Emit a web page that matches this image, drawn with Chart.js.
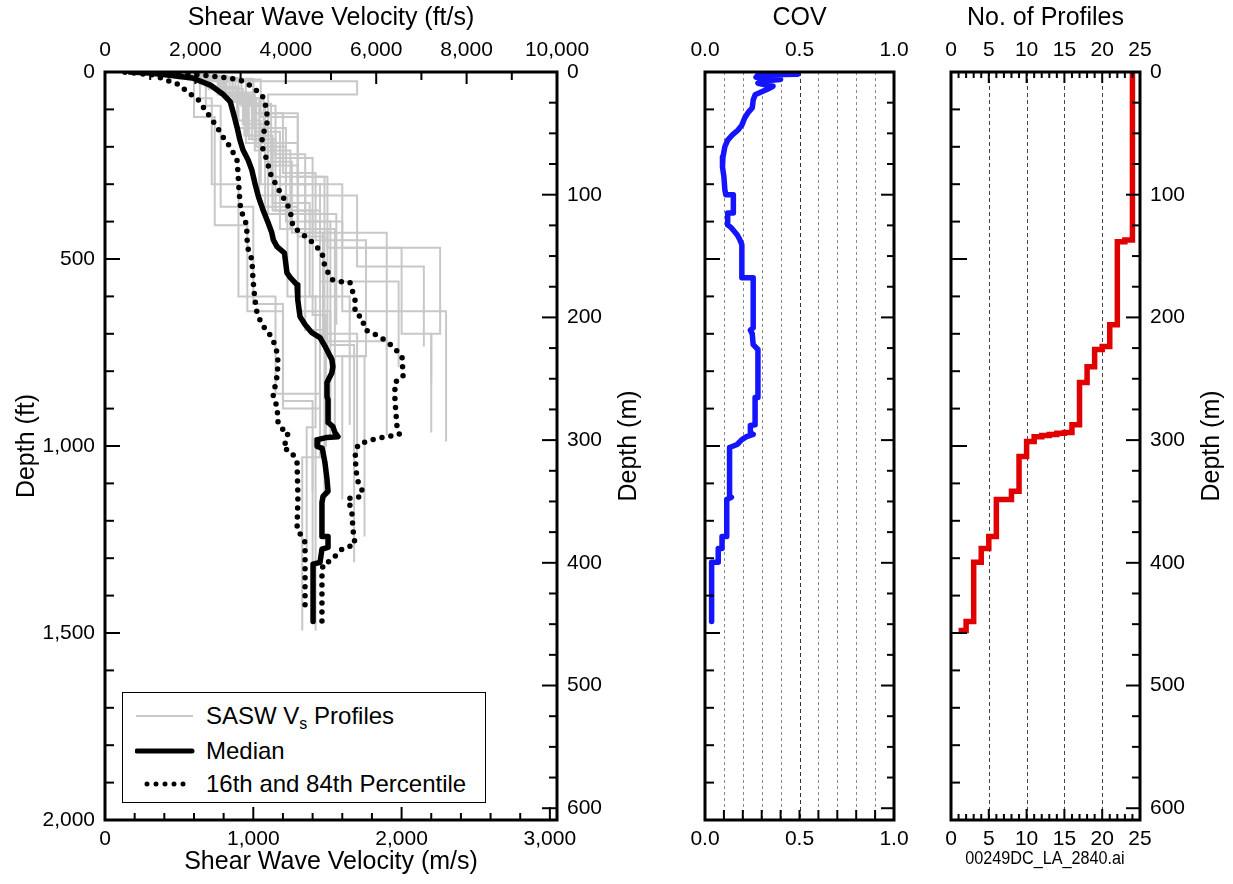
<!DOCTYPE html>
<html>
<head>
<meta charset="utf-8">
<title>Shear wave velocity profiles</title>
<script src="https://cdn.jsdelivr.net/npm/chart.js@4.4.1/dist/chart.umd.min.js"></script>
<style>
  html, body { margin: 0; padding: 0; background: #fff; }
  body { width: 1233px; height: 884px; position: relative; overflow: hidden;
         font-family: "Liberation Sans", Arial, sans-serif; color: #000; }
  canvas { position: absolute; top: 0; }
  #legend { position: absolute; left: 122px; top: 692px; width: 362px; height: 109px;
            border: 1.5px solid #000; background: #fff; z-index: 2; }
  #legend svg { position: absolute; left: 12px; }
  #legend .txt { position: absolute; left: 83px; font-size: 24px; line-height: 28px; white-space: nowrap; }
  #legend sub { font-size: 16px; vertical-align: -5px; line-height: 0; }
  #foot { position: absolute; left: 1045px; top: 848px; font-size: 18px; line-height: 20px;
          transform: translateX(-50%) scaleX(0.9); white-space: nowrap; }
</style>
</head>
<body>
<canvas id="c1" width="660" height="884" style="left:0px"></canvas>
<canvas id="c2" width="270" height="884" style="left:660px"></canvas>
<canvas id="c3" width="303" height="884" style="left:930px"></canvas>

<div id="legend">
  <svg width="60" height="12" style="top:17px"><line x1="1" y1="6" x2="58" y2="6" stroke="#c8c8c8" stroke-width="2"/></svg>
  <div class="txt" style="top:9px">SASW V<sub>s</sub> Profiles</div>
  <svg width="60" height="12" style="top:52px"><line x1="2" y1="6" x2="57" y2="6" stroke="#000" stroke-width="5" stroke-linecap="round"/></svg>
  <div class="txt" style="top:44px">Median</div>
  <svg width="60" height="12" style="top:85px"><line x1="12" y1="6" x2="57" y2="6" stroke="#000" stroke-width="5" stroke-linecap="round" stroke-dasharray="0 9"/></svg>
  <div class="txt" style="top:77px">16th and 84th Percentile</div>
</div>
<div id="foot">00249DC_LA_2840.ai</div>

<script>
// ---- Median and percentile curves: depth (ft) and shear wave velocity (m/s) ----
const medianDepthFt = [0, 3, 8, 16, 35, 61, 80, 109, 147, 182, 208, 235, 262, 296, 334, 368, 403, 430, 449, 467,
  484, 537, 550, 569, 609, 654, 676, 697, 710, 734, 750, 769, 788, 804, 830, 868, 876, 937, 948, 964,
  975, 977, 983, 1001, 1006, 1044, 1089, 1121, 1135, 1151, 1242, 1242, 1271, 1276, 1311, 1316, 1469];
const medianVs = [170, 300, 420, 590, 710, 800, 845, 865, 890, 910, 930, 965, 990, 1010, 1035, 1065, 1100, 1125, 1135, 1160,
  1210, 1227, 1250, 1295, 1300, 1315, 1350, 1395, 1450, 1485, 1505, 1530, 1537, 1530, 1497, 1497, 1504, 1504, 1537, 1551,
  1571, 1497, 1436, 1430, 1465, 1483, 1497, 1504, 1470, 1463, 1463, 1504, 1504, 1463, 1450, 1403, 1403];

const p16DepthFt = [0, 8, 35, 56, 69, 93, 120, 147, 174, 200, 235, 270, 323, 368, 409, 467, 502, 555, 609, 644,
  676, 695, 716, 750, 777, 814, 868, 894, 937, 956, 961, 983, 1004, 1017, 1044, 1135, 1223, 1242, 1258, 1445];
const p16Vs = [135, 324, 506, 560, 620, 661, 708, 755, 796, 843, 890, 897, 905, 915, 955, 960, 991, 998, 1011, 1025,
  1059, 1100, 1133, 1160, 1167, 1160, 1133, 1160, 1167, 1200, 1234, 1227, 1200, 1260, 1295, 1301, 1295, 1328, 1349, 1349];

const p84DepthFt = [0, 8, 13, 21, 40, 67, 101, 147, 163, 182, 208, 235, 270, 307, 334, 368, 414, 443, 457, 483,
  521, 555, 561, 563, 609, 644, 657, 689, 708, 734, 761, 814, 830, 876, 948, 969, 977, 983, 996, 1028,
  1089, 1124, 1138, 1140, 1178, 1223, 1263, 1276, 1295, 1308, 1316, 1348, 1469];
const p84Vs = [135, 640, 775, 910, 998, 1065, 1092, 1092, 1065, 1059, 1065, 1092, 1113, 1160, 1200, 1247, 1268, 1362, 1403, 1463,
  1483, 1531, 1598, 1652, 1686, 1686, 1733, 1753, 1854, 1942, 2003, 2010, 1955, 1955, 1969, 1985, 1875, 1800, 1706, 1686,
  1699, 1740, 1706, 1639, 1665, 1672, 1686, 1598, 1551, 1517, 1470, 1463, 1463];

// ---- Individual SASW profiles: layer bottoms (ft) and layer velocities (m/s) ----
const profileBottomsFt = [
  [12, 60, 160, 300, 449],
  [10, 45, 140, 280, 454],
  [15, 70, 190, 380, 676],
  [10, 55, 150, 330, 520, 734],
  [20, 90, 230, 430, 742],
  [8, 40, 130, 300, 560, 788],
  [18, 110, 300, 470, 700, 830],
  [12, 60, 170, 350, 600, 943],
  [20, 120, 280, 470, 700, 964],
  [10, 70, 300, 600, 860, 966],
  [14, 75, 200, 420, 969],
  [25, 60, 250, 440, 720, 972],
  [9, 120, 410, 640, 900, 975],
  [16, 85, 220, 400, 640, 988],
  [12, 65, 180, 370, 700, 1028],
  [10, 90, 360, 620, 880, 1121],
  [22, 110, 270, 450, 760, 1143],
  [11, 60, 190, 380, 690, 1143],
  [15, 80, 210, 420, 760, 1242],
  [8, 45, 150, 330, 600, 950, 1274],
  [13, 70, 200, 400, 730, 1311],
  [10, 55, 170, 360, 640, 980, 1469],
  [18, 90, 240, 430, 720, 1030, 1493],
  [12, 60, 180, 370, 650, 1000, 1493]
];
const profileVs = [
  [420, 760, 1010, 1180, 1350],
  [380, 700, 930, 1120, 1480],
  [520, 880, 1070, 1300, 1560],
  [460, 820, 1000, 1220, 1700, 2150],
  [600, 950, 1150, 1400, 1900],
  [350, 680, 900, 1050, 1450, 1980],
  [500, 1000, 1300, 1600, 2260, 2200],
  [440, 790, 960, 1130, 1380, 1650],
  [560, 1050, 1300, 1500, 2000, 2200],
  [400, 640, 720, 900, 1150, 1450],
  [480, 860, 1020, 1180, 1550],
  [620, 1700, 1100, 1300, 1480, 1900],
  [370, 600, 740, 960, 1200, 1450],
  [530, 900, 1120, 1350, 1600, 2300],
  [450, 810, 990, 1150, 1450, 1700],
  [390, 680, 780, 1000, 1200, 1400],
  [580, 1000, 1200, 1420, 1760, 1600],
  [420, 780, 950, 1100, 1350, 1480],
  [500, 840, 1010, 1250, 1500, 1750],
  [360, 700, 890, 1040, 1230, 1420, 1360],
  [470, 860, 1040, 1220, 1520, 1680],
  [410, 770, 940, 1080, 1300, 1520, 1400],
  [540, 920, 1080, 1260, 1470, 1450, 1330],
  [430, 800, 970, 1130, 1400, 1490, 1420]
];

// ---- Coefficient of variation with depth ----
const covDepthFt = [0, 2, 6, 8, 14, 20, 24, 30, 38, 46, 53, 61, 75, 96, 107, 123, 142, 155, 168, 182,
  200, 227, 235, 254, 280, 315, 328, 328, 377, 377, 409, 417, 435, 449, 462, 550, 550, 684, 690, 700,
  729, 742, 870, 870, 943, 945, 964, 969, 975, 983, 996, 1004, 1135, 1137, 1143, 1242, 1242, 1274, 1274, 1311,
  1311, 1469];
const covValues = [0.30, 0.49, 0.49, 0.28, 0.27, 0.40, 0.30, 0.28, 0.36, 0.33, 0.30, 0.265, 0.255, 0.25, 0.23, 0.21, 0.195, 0.175, 0.145, 0.12,
  0.105, 0.095, 0.09, 0.095, 0.10, 0.105, 0.11, 0.15, 0.15, 0.12, 0.12, 0.14, 0.17, 0.185, 0.195, 0.195, 0.255, 0.255, 0.24, 0.25,
  0.255, 0.28, 0.28, 0.265, 0.265, 0.24, 0.24, 0.255, 0.22, 0.195, 0.17, 0.13, 0.13, 0.14, 0.115, 0.115, 0.09, 0.09, 0.07, 0.07,
  0.035, 0.035];

// ---- Number of profiles reaching each depth (interval boundaries in ft) ----
const countDepthFt = [0, 449, 454, 676, 734, 742, 788, 830, 943, 964, 966, 969, 972, 975, 988, 1028, 1121, 1143, 1242, 1274, 1311, 1469, 1493, 1493];
const countValues = [24, 23, 22, 21, 20, 19, 18, 17, 16, 15, 14, 13, 12, 11, 10, 9, 8, 6, 5, 4, 3, 2, 1];

// ---- Axis label values ----
const vsLabelsMs = [0, 1000, 2000, 3000];
const vsLabelsFtS = [0, 2000, 4000, 6000, 8000, 10000];
const depthLabelsFt = [0, 500, 1000, 1500, 2000];
const depthLabelsM = [0, 100, 200, 300, 400, 500, 600];
const covLabels = [0, 0.5, 1];
const countLabels = [0, 5, 10, 15, 20, 25];

// ---- helpers to turn the arrays into chart points ----
const curve = (depths, vals) => depths.map((d, i) => ({ x: vals[i], y: d }));
function layered(bottoms, vals) {
  const pts = []; let top = 0;
  vals.forEach((v, i) => { pts.push({ x: v, y: top }, { x: v, y: bottoms[i] }); top = bottoms[i]; });
  return pts;
}
function stepped(bounds, vals) {
  const pts = [];
  vals.forEach((v, i) => { pts.push({ x: v, y: bounds[i] }, { x: v, y: bounds[i + 1] }); });
  return pts;
}

const FONT = '"Liberation Sans", Arial, sans-serif';
Chart.defaults.font.family = FONT;
Chart.defaults.color = '#000';

const thousands = v => Number(v).toLocaleString('en-US');
const oneDecimal = v => Number(v).toFixed(1);
const plain = v => String(v);
const FT_MAX = 2000, M_MAX = 2000 * 0.3048;

function axis(o) {
  return {
    type: 'linear', position: o.position, min: o.min, max: o.max, reverse: !!o.reverse,
    display: o.display !== false,
    afterBuildTicks: s => { s.ticks = (o.labels || []).map(v => ({ value: v })); },
    afterFit: s => { if (o.size != null) { if (s.isHorizontal()) s.height = o.size; else s.width = o.size; } },
    ticks: { callback: o.fmt || plain, padding: o.pad || 0, font: { size: 21 }, color: '#000',
             autoSkip: false, maxRotation: 0, minRotation: 0 },
    grid: { display: false, drawTicks: false },
    border: { display: false },
    title: o.title ? { display: true, text: o.title, font: { size: 25 }, color: '#000', padding: o.titlePad }
                   : { display: false }
  };
}

// tick marks (drawn inward), dashed guides, frames and right-hand titles
const range = (n, step) => Array.from({ length: n + 1 }, (_, i) => i * step);
const decor = {
  c1: {
    marks: [
      { scale: 'x', edge: 'bottom', step: 200, n: 15, every: 5, minor: 7, major: 13 },
      { scale: 'xTop', edge: 'top', step: 1000, n: 10, every: 2, minor: 8, major: 12 },
      { scale: 'y', edge: 'left', step: 100, n: 20, every: 5, minor: 9, major: 15 },
      { scale: 'yM', edge: 'right', step: 25, n: 24, every: 4, minor: 8, major: 15 }
    ],
    grid: [],
    rightTitle: { text: 'Depth (m)', x: 629 }
  },
  c2: {
    marks: [
      { scale: 'x', edge: 'bottom', step: 0.1, n: 10, every: 5, minor: 10, major: 10 },
      { scale: 'xTop', edge: 'top', step: 0.1, n: 10, every: 5, minor: 0, major: 0 },
      { scale: 'y', edge: 'left', step: 100, n: 20, every: 5, minor: 9, major: 15 },
      { scale: 'yM', edge: 'right', step: 25, n: 24, every: 4, minor: 7, major: 13 }
    ],
    grid: [
      { scale: 'x', values: [0.1, 0.2, 0.3, 0.4, 0.6, 0.7, 0.8, 0.9], color: '#8a8a8a', dash: [3, 3] },
      { scale: 'x', values: [0.5], color: '#333', dash: [4, 3] }
    ]
  },
  c3: {
    marks: [
      { scale: 'x', edge: 'bottom', step: 1, n: 25, every: 5, minor: 6, major: 11 },
      { scale: 'xTop', edge: 'top', step: 1, n: 25, every: 5, minor: 6, major: 11 },
      { scale: 'y', edge: 'left', step: 100, n: 20, every: 5, minor: 9, major: 16 },
      { scale: 'yM', edge: 'right', step: 25, n: 24, every: 4, minor: 8, major: 14 }
    ],
    grid: [
      { scale: 'x', values: [5, 10, 15, 20], color: '#444', dash: [4, 3] }
    ],
    rightTitle: { text: 'Depth (m)', x: 282 }
  }
};

const decorPlugin = {
  id: 'decor',
  beforeDatasetsDraw(chart) {
    const d = decor[chart.canvas.id]; if (!d) return;
    const { ctx, chartArea: a } = chart;
    d.grid.forEach(g => {
      const s = chart.scales[g.scale];
      ctx.save();
      ctx.strokeStyle = g.color; ctx.lineWidth = 1; ctx.setLineDash(g.dash);
      g.values.forEach(v => {
        const p = Math.round(s.getPixelForValue(v)) + 0.5;
        ctx.beginPath(); ctx.moveTo(p, a.top); ctx.lineTo(p, a.bottom); ctx.stroke();
      });
      ctx.restore();
    });
  },
  afterDatasetsDraw(chart) {
    const d = decor[chart.canvas.id]; if (!d) return;
    const { ctx, chartArea: a } = chart;
    ctx.save();
    ctx.strokeStyle = '#000'; ctx.lineWidth = 2; ctx.setLineDash([]);
    d.marks.forEach(m => {
      const s = chart.scales[m.scale];
      range(m.n, m.step).forEach((v, i) => {
        const len = (i % m.every === 0) ? m.major : m.minor;
        if (!len) return;
        const p = s.getPixelForValue(v);
        ctx.beginPath();
        if (m.edge === 'bottom') { ctx.moveTo(p, a.bottom); ctx.lineTo(p, a.bottom - len); }
        else if (m.edge === 'top') { ctx.moveTo(p, a.top); ctx.lineTo(p, a.top + len); }
        else if (m.edge === 'left') { ctx.moveTo(a.left, p); ctx.lineTo(a.left + len, p); }
        else { ctx.moveTo(a.right, p); ctx.lineTo(a.right - len, p); }
        ctx.stroke();
      });
    });
    ctx.lineWidth = 3;
    ctx.strokeRect(a.left, a.top, a.right - a.left, a.bottom - a.top);
    ctx.restore();
  },
  afterDraw(chart) {
    const d = decor[chart.canvas.id]; if (!d || !d.rightTitle) return;
    const { ctx, chartArea: a } = chart;
    ctx.save();
    ctx.font = '25px ' + FONT; ctx.fillStyle = '#000';
    ctx.textAlign = 'center'; ctx.textBaseline = 'middle';
    ctx.translate(d.rightTitle.x, (a.top + a.bottom) / 2);
    ctx.rotate(-Math.PI / 2);
    ctx.fillText(d.rightTitle.text, 0, 0);
    ctx.restore();
  }
};

function lineSet(points, o) {
  return Object.assign({
    data: points, showLine: true, pointRadius: 0, pointHoverRadius: 0, fill: false,
    borderJoinStyle: 'round', borderCapStyle: 'round', tension: 0, xAxisID: 'x', yAxisID: 'y'
  }, o);
}

function makeChart(id, datasets, scales, padding) {
  return new Chart(document.getElementById(id), {
    type: 'scatter',
    data: { datasets },
    options: {
      responsive: false, animation: false, events: [],
      layout: { padding },
      plugins: { legend: { display: false }, tooltip: { enabled: false } },
      scales
    },
    plugins: [decorPlugin]
  });
}

// ---- Panel 1: shear wave velocity profiles ----
const vsSets = [
  lineSet(curve(medianDepthFt, medianVs), { borderColor: '#000', borderWidth: 5.5, order: 0 }),
  lineSet(curve(p16DepthFt, p16Vs), { borderColor: '#000', borderWidth: 5.5, borderDash: [0, 9], order: 1 }),
  lineSet(curve(p84DepthFt, p84Vs), { borderColor: '#000', borderWidth: 5.5, borderDash: [0, 9], order: 1 })
];
profileBottomsFt.forEach((b, i) => {
  vsSets.push(lineSet(layered(b, profileVs[i]), { borderColor: '#c8c8c8', borderWidth: 2, borderCapStyle: 'butt', borderJoinStyle: 'miter', order: 2 }));
});
makeChart('c1', vsSets, {
  x: axis({ position: 'bottom', min: 0, max: 3048, labels: vsLabelsMs, fmt: thousands, pad: 7, size: 64,
            title: 'Shear Wave Velocity (m/s)', titlePad: { top: 0, bottom: 7 } }),
  xTop: axis({ position: 'top', min: 0, max: 10000, labels: vsLabelsFtS, fmt: thousands, pad: 9, size: 72,
               title: 'Shear Wave Velocity (ft/s)', titlePad: { top: 3, bottom: 0 } }),
  y: axis({ position: 'left', min: 0, max: FT_MAX, reverse: true, labels: depthLabelsFt, fmt: thousands, pad: 10, size: 105,
            title: 'Depth (ft)', titlePad: { top: 12, bottom: 0 } }),
  yM: axis({ position: 'right', min: 0, max: M_MAX, reverse: true, labels: depthLabelsM, pad: 10, size: 103 })
}, { left: 0, right: 0, top: 0, bottom: 0 });

// ---- Panel 2: COV ----
makeChart('c2', [
  lineSet(curve(covDepthFt, covValues), { borderColor: '#1414ff', borderWidth: 5.5 })
], {
  x: axis({ position: 'bottom', min: 0, max: 1, labels: covLabels, fmt: oneDecimal, pad: 7, size: 64 }),
  xTop: axis({ position: 'top', min: 0, max: 1, labels: covLabels, fmt: oneDecimal, pad: 9, size: 72,
               title: 'COV', titlePad: { top: 3, bottom: 0 } }),
  y: axis({ position: 'left', min: 0, max: FT_MAX, reverse: true, display: false }),
  yM: axis({ position: 'right', min: 0, max: M_MAX, reverse: true, display: false })
}, { left: 45, right: 36, top: 0, bottom: 0 });

// ---- Panel 3: number of profiles ----
makeChart('c3', [
  lineSet(stepped(countDepthFt, countValues), { borderColor: '#e00000', borderWidth: 5.5, borderCapStyle: 'butt', borderJoinStyle: 'miter' })
], {
  x: axis({ position: 'bottom', min: 0, max: 25, labels: countLabels, pad: 7, size: 64 }),
  xTop: axis({ position: 'top', min: 0, max: 25, labels: countLabels, pad: 9, size: 72,
               title: 'No. of Profiles', titlePad: { top: 3, bottom: 0 } }),
  y: axis({ position: 'left', min: 0, max: FT_MAX, reverse: true, display: false }),
  yM: axis({ position: 'right', min: 0, max: M_MAX, reverse: true, labels: depthLabelsM, pad: 10, size: 93 })
}, { left: 21, right: 0, top: 0, bottom: 0 });
</script>
</body>
</html>
